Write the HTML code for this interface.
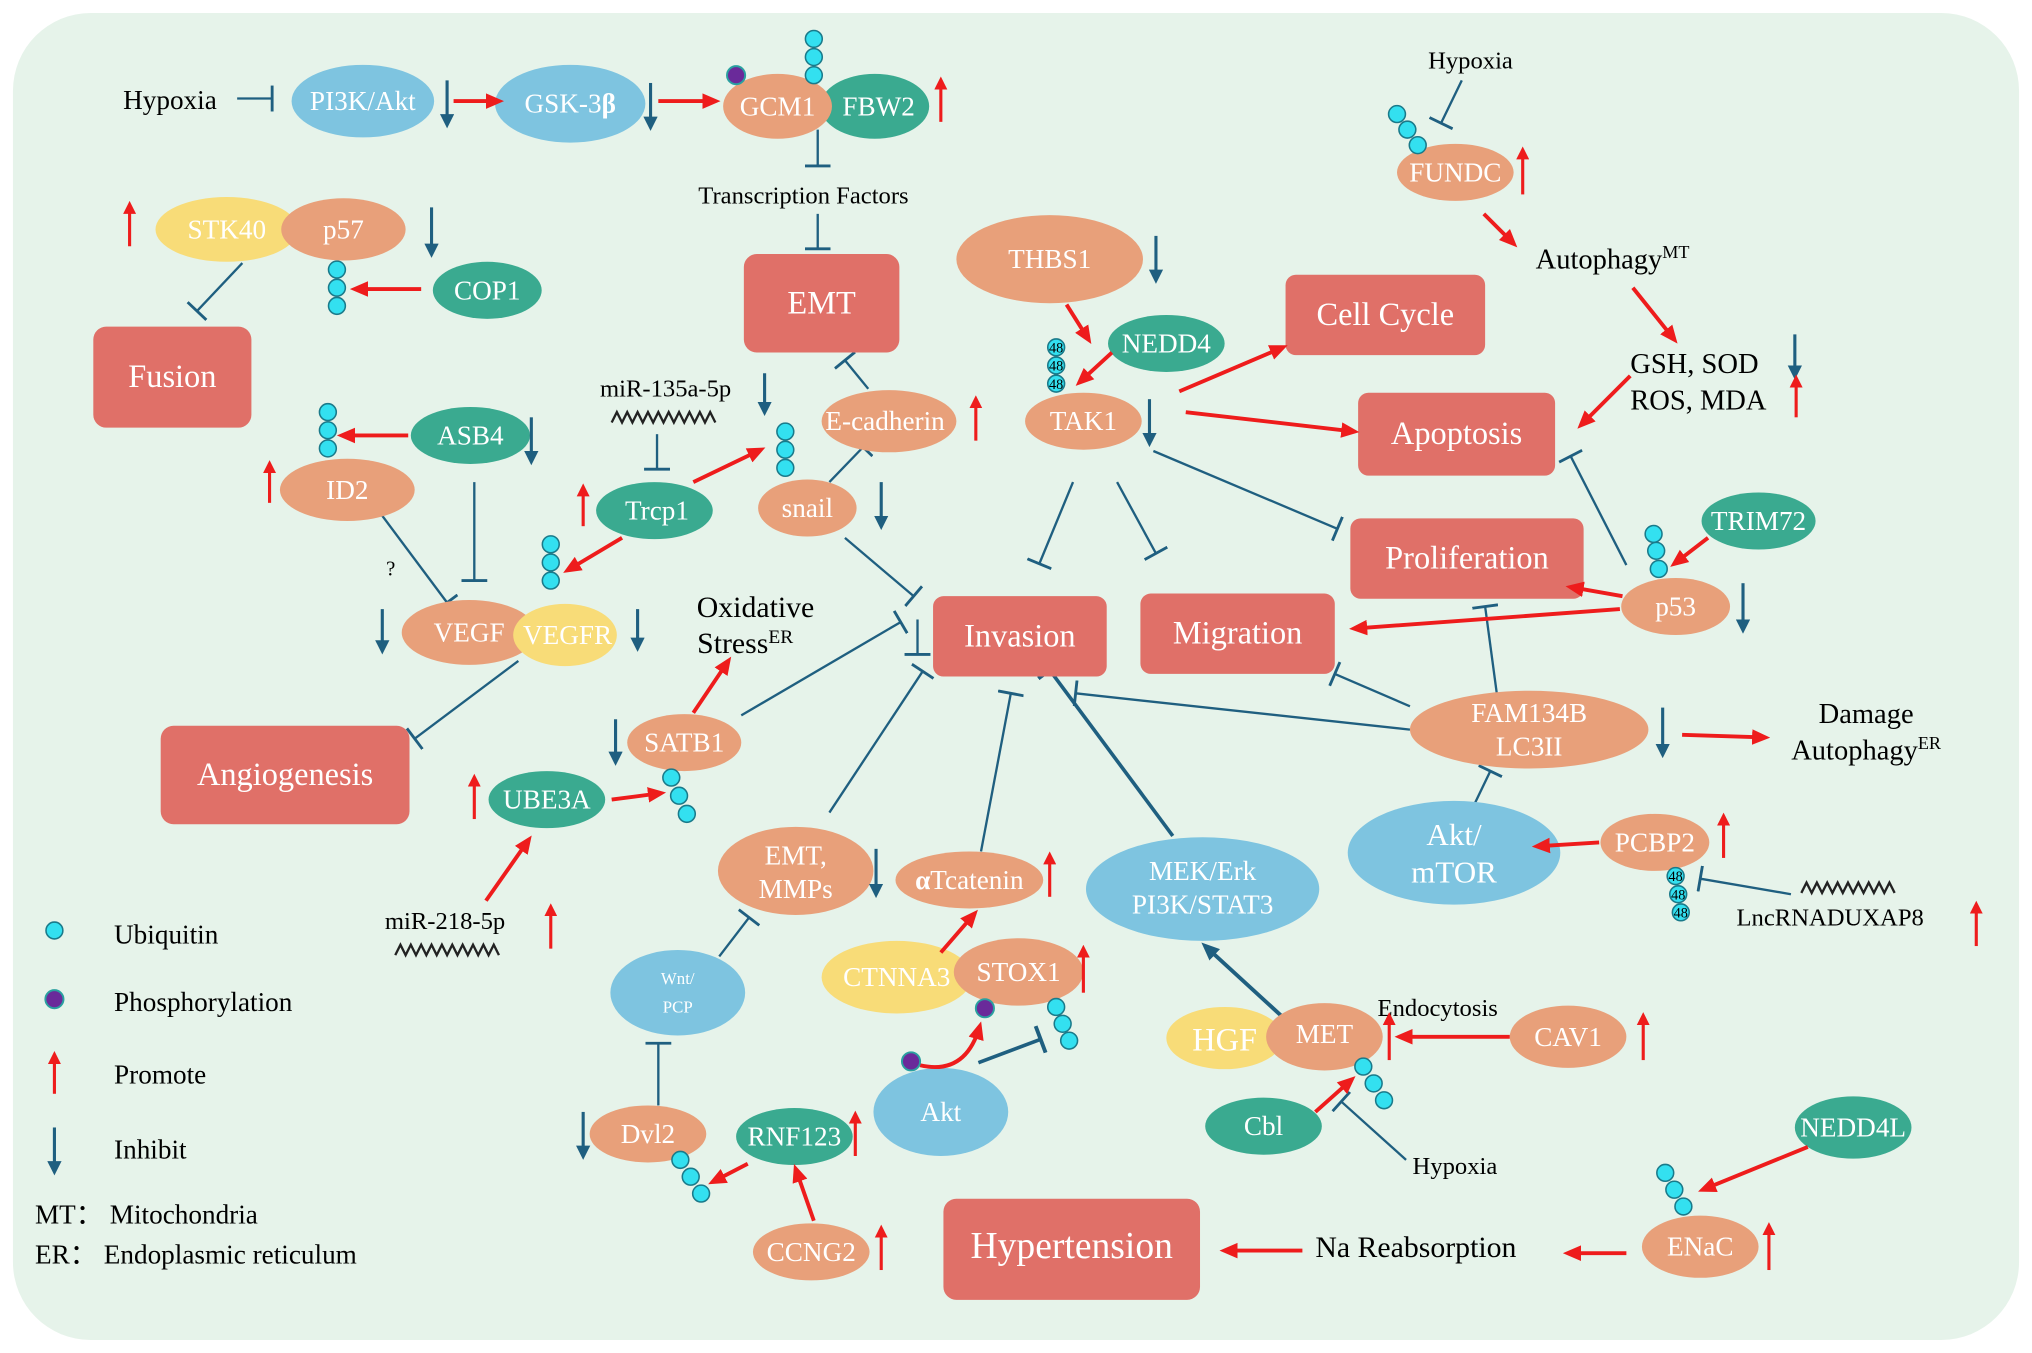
<!DOCTYPE html>
<html><head><meta charset="utf-8"><style>
html,body{margin:0;padding:0;background:#fff;}
svg{display:block;}
text{font-family:"Liberation Serif",serif;}
.w{fill:#fff;text-anchor:middle;dominant-baseline:central;font-size:21px;}
.b{fill:#fff;text-anchor:middle;dominant-baseline:central;font-size:25px;}
.k{fill:#000;font-size:21px;}
.i{stroke:#1f5f80;stroke-width:1.8;marker-end:url(#ib);}
.it{stroke:#1f5f80;stroke-width:2.8;marker-end:url(#ib2);}
.r{stroke:#ee1c1c;stroke-width:3;marker-end:url(#ar2);fill:none;}
.u{stroke:#ee1c1c;stroke-width:2.4;marker-end:url(#ar);}
.d{stroke:#1f5f80;stroke-width:2.4;marker-end:url(#ab);}
.c{fill:#33e0f0;stroke:#1a7a8a;stroke-width:1.2;}
.p{fill:#6a2a9a;stroke:#2aa0a0;stroke-width:1.5;}
.n{font-size:11px;text-anchor:middle;fill:#000;}
.wv{fill:none;stroke:#222;stroke-width:1.8;}
</style></head><body>
<svg width="2032" height="1353" viewBox="0 0 1568 1044" xmlns="http://www.w3.org/2000/svg">
<defs>
<marker id="ar" markerWidth="10" markerHeight="10" refX="7" refY="5" orient="auto" markerUnits="userSpaceOnUse" viewBox="0 0 10 10"><path d="M0,0 L10,5 L0,10 z" fill="#ee1c1c"/></marker>
<marker id="ab" markerWidth="11" markerHeight="11" refX="8" refY="5.5" orient="auto" markerUnits="userSpaceOnUse" viewBox="0 0 11 11"><path d="M0,0 L11,5.5 L0,11 z" fill="#1f5f80"/></marker>
<marker id="ar2" markerWidth="14" markerHeight="14" refX="10" refY="7" orient="auto" markerUnits="userSpaceOnUse" viewBox="0 0 14 14"><path d="M0,1 L14,7 L0,13 z" fill="#ee1c1c"/></marker>
<marker id="ab2" markerWidth="14" markerHeight="14" refX="10" refY="7" orient="auto" markerUnits="userSpaceOnUse" viewBox="0 0 14 14"><path d="M0,1 L14,7 L0,13 z" fill="#1f5f80"/></marker>
<marker id="ib" markerWidth="4" markerHeight="20" refX="2" refY="10" orient="auto" markerUnits="userSpaceOnUse" viewBox="0 0 4 20"><path d="M2,0 L2,20" stroke="#1f5f80" stroke-width="2.2"/></marker>
<marker id="ib2" markerWidth="4" markerHeight="22" refX="2" refY="11" orient="auto" markerUnits="userSpaceOnUse" viewBox="0 0 4 22"><path d="M2,0 L2,22" stroke="#1f5f80" stroke-width="3"/></marker>
</defs>
<rect x="10" y="10" width="1548" height="1024" rx="60" fill="#e6f3ea"/>
<!-- inhibitions -->
<g>
<line class="i" x1="183" y1="76" x2="210" y2="76"/>
<line class="i" x1="631" y1="100" x2="631" y2="128"/>
<line class="i" x1="631" y1="165" x2="631" y2="192"/>
<line class="i" x1="187" y1="203" x2="152" y2="240"/>
<line class="i" x1="295" y1="398" x2="345" y2="465"/>
<line class="i" x1="366" y1="372" x2="366" y2="448"/>
<line class="i" x1="507" y1="335" x2="507" y2="362"/>
<line class="i" x1="670" y1="300" x2="652" y2="278"/>
<line class="i" x1="640" y1="372" x2="666" y2="345"/>
<line class="i" x1="652" y1="415" x2="705" y2="460"/>
<line class="i" x1="400" y1="510" x2="320" y2="570"/>
<line class="i" x1="572" y1="552" x2="695" y2="480"/>
<line class="i" x1="640" y1="627" x2="712" y2="518"/>
<line class="i" x1="757" y1="657" x2="780" y2="535"/>
<line class="it" x1="905" y1="645" x2="810" y2="517"/>
<line class="i" x1="555" y1="738" x2="578" y2="708"/>
<line class="i" x1="508" y1="853" x2="508" y2="805"/>
<line class="it" x1="755" y1="820" x2="803" y2="802"/>
<line class="i" x1="1085" y1="895" x2="1035" y2="850"/>
<line class="i" x1="828" y1="372" x2="802" y2="435"/>
<line class="i" x1="862" y1="372" x2="892" y2="427"/>
<line class="i" x1="890" y1="348" x2="1032" y2="408"/>
<line class="i" x1="1128" y1="62" x2="1112" y2="95"/>
<line class="i" x1="1255" y1="436" x2="1212" y2="352"/>
<line class="i" x1="1155" y1="535" x2="1146" y2="468"/>
<line class="i" x1="1088" y1="545" x2="1030" y2="520"/>
<line class="i" x1="1088" y1="563" x2="830" y2="535"/>
<line class="i" x1="1138" y1="620" x2="1150" y2="595"/>
<line class="i" x1="1382" y1="690" x2="1312" y2="678"/>
<line class="i" x1="708" y1="478" x2="708" y2="505"/>
<line x1="990" y1="785" x2="930" y2="730" stroke="#1f5f80" stroke-width="3" marker-end="url(#ab2)"/>
</g>
<!-- boxes -->
<g fill="#e07068">
<rect x="574" y="196" width="120" height="76" rx="10"/>
<rect x="72" y="252" width="122" height="78" rx="10"/>
<rect x="124" y="560" width="192" height="76" rx="10"/>
<rect x="720" y="460" width="134" height="62" rx="8"/>
<rect x="880" y="458" width="150" height="62" rx="8"/>
<rect x="992" y="212" width="154" height="62" rx="8"/>
<rect x="1048" y="303" width="152" height="64" rx="8"/>
<rect x="1042" y="400" width="180" height="62" rx="8"/>
<rect x="728" y="925" width="198" height="78" rx="10"/>
</g>
<!-- ellipses -->
<g>
<ellipse cx="280" cy="78" rx="55" ry="28" fill="#7ec4e0"/>
<ellipse cx="440" cy="80" rx="58" ry="30" fill="#7ec4e0"/>
<ellipse cx="675" cy="82" rx="42" ry="25" fill="#3aaa90"/>
<ellipse cx="600" cy="82" rx="42" ry="25" fill="#e8a07a"/>
<ellipse cx="175" cy="177" rx="55" ry="25" fill="#f8dc78"/>
<ellipse cx="265" cy="177" rx="48" ry="24" fill="#e8a07a"/>
<ellipse cx="376" cy="224" rx="42" ry="22" fill="#3aaa90"/>
<ellipse cx="363" cy="336" rx="46" ry="22" fill="#3aaa90"/>
<ellipse cx="268" cy="378" rx="52" ry="24" fill="#e8a07a"/>
<ellipse cx="505" cy="394" rx="45" ry="22" fill="#3aaa90"/>
<ellipse cx="623" cy="392" rx="38" ry="22" fill="#e8a07a"/>
<ellipse cx="686" cy="325" rx="52" ry="24" fill="#e8a07a"/>
<ellipse cx="362" cy="488" rx="52" ry="25" fill="#e8a07a"/>
<ellipse cx="436" cy="490" rx="40" ry="24" fill="#f8dc78"/>
<ellipse cx="528" cy="573" rx="44" ry="22" fill="#e8a07a"/>
<ellipse cx="422" cy="617" rx="45" ry="22" fill="#3aaa90"/>
<ellipse cx="614" cy="672" rx="60" ry="34" fill="#e8a07a"/>
<ellipse cx="748" cy="679" rx="57" ry="22" fill="#e8a07a"/>
<ellipse cx="928" cy="686" rx="90" ry="40" fill="#7ec4e0"/>
<ellipse cx="523" cy="766" rx="52" ry="33" fill="#7ec4e0"/>
<ellipse cx="692" cy="754" rx="58" ry="28" fill="#f8dc78"/>
<ellipse cx="786" cy="750" rx="50" ry="26" fill="#e8a07a"/>
<ellipse cx="726" cy="858" rx="52" ry="34" fill="#7ec4e0"/>
<ellipse cx="500" cy="875" rx="45" ry="22" fill="#e8a07a"/>
<ellipse cx="613" cy="877" rx="45" ry="22" fill="#3aaa90"/>
<ellipse cx="626" cy="966" rx="45" ry="22" fill="#e8a07a"/>
<ellipse cx="945" cy="801" rx="45" ry="24" fill="#f8dc78"/>
<ellipse cx="1022" cy="800" rx="45" ry="26" fill="#e8a07a"/>
<ellipse cx="1210" cy="800" rx="45" ry="24" fill="#e8a07a"/>
<ellipse cx="975" cy="869" rx="45" ry="22" fill="#3aaa90"/>
<ellipse cx="1312" cy="962" rx="45" ry="24" fill="#e8a07a"/>
<ellipse cx="1430" cy="870" rx="45" ry="24" fill="#3aaa90"/>
<ellipse cx="810" cy="200" rx="72" ry="34" fill="#e8a07a"/>
<ellipse cx="900" cy="265" rx="45" ry="22" fill="#3aaa90"/>
<ellipse cx="836" cy="325" rx="45" ry="22" fill="#e8a07a"/>
<ellipse cx="1123" cy="133" rx="45" ry="22" fill="#e8a07a"/>
<ellipse cx="1357" cy="402" rx="44" ry="22" fill="#3aaa90"/>
<ellipse cx="1293" cy="468" rx="42" ry="22" fill="#e8a07a"/>
<ellipse cx="1180" cy="563" rx="92" ry="30" fill="#e8a07a"/>
<ellipse cx="1122" cy="658" rx="82" ry="40" fill="#7ec4e0"/>
<ellipse cx="1277" cy="650" rx="42" ry="22" fill="#e8a07a"/>
</g>
<!-- red arrows -->
<g>
<line class="r" x1="350" y1="78" x2="385" y2="78"/>
<line class="r" x1="508" y1="78" x2="552" y2="78"/>
<line class="r" x1="325" y1="223" x2="274" y2="223"/>
<line class="r" x1="315" y1="336" x2="264" y2="336"/>
<line class="r" x1="535" y1="372" x2="587" y2="347"/>
<line class="r" x1="480" y1="415" x2="438" y2="440"/>
<line class="r" x1="535" y1="550" x2="562" y2="510"/>
<line class="r" x1="472" y1="617" x2="510" y2="612"/>
<line class="r" x1="375" y1="695" x2="408" y2="648"/>
<line class="r" x1="726" y1="735" x2="752" y2="705"/>
<line class="r" x1="577" y1="898" x2="550" y2="912"/>
<line class="r" x1="628" y1="942" x2="614" y2="902"/>
<line class="r" x1="1165" y1="800" x2="1080" y2="800"/>
<line class="r" x1="1015" y1="858" x2="1043" y2="833"/>
<line class="r" x1="1005" y1="965" x2="945" y2="965"/>
<line class="r" x1="1255" y1="967" x2="1210" y2="967"/>
<line class="r" x1="1395" y1="885" x2="1314" y2="918"/>
<line class="r" x1="823" y1="235" x2="840" y2="262"/>
<line class="r" x1="858" y1="272" x2="833" y2="295"/>
<line class="r" x1="910" y1="302" x2="990" y2="268"/>
<line class="r" x1="915" y1="318" x2="1045" y2="333"/>
<line class="r" x1="1145" y1="165" x2="1168" y2="188"/>
<line class="r" x1="1260" y1="222" x2="1292" y2="262"/>
<line class="r" x1="1258" y1="290" x2="1220" y2="328"/>
<line class="r" x1="1318" y1="415" x2="1292" y2="435"/>
<line class="r" x1="1252" y1="460" x2="1212" y2="453"/>
<line class="r" x1="1250" y1="470" x2="1045" y2="485"/>
<line class="r" x1="1298" y1="567" x2="1362" y2="569"/>
<line class="r" x1="1234" y1="650" x2="1186" y2="653"/>
<path class="r" d="M710,822 Q745,830 756,792"/>
</g>
<text class="b" x="634" y="234">EMT</text>
<text class="b" x="133" y="291">Fusion</text>
<text class="b" x="220" y="598">Angiogenesis</text>
<text class="b" x="787" y="491">Invasion</text>
<text class="b" x="955" y="489">Migration</text>
<text class="b" x="1069" y="243">Cell Cycle</text>
<text class="b" x="1124" y="335">Apoptosis</text>
<text class="b" x="1132" y="431">Proliferation</text>
<text class="b" x="827" y="962" style="font-size:29px">Hypertension</text>
<text class="w" x="280" y="78">PI3K/Akt</text>
<text class="w" x="440" y="80">GSK-3<tspan font-weight="bold">β</tspan></text>
<text class="w" x="600" y="82">GCM1</text>
<text class="w" x="678" y="82">FBW2</text>
<text class="w" x="175" y="177">STK40</text>
<text class="w" x="265" y="177">p57</text>
<text class="w" x="376" y="224">COP1</text>
<text class="w" x="363" y="336">ASB4</text>
<text class="w" x="268" y="378">ID2</text>
<text class="w" x="507" y="394">Trcp1</text>
<text class="w" x="623" y="392">snail</text>
<text class="w" x="683" y="325">E-cadherin</text>
<text class="w" x="362" y="488">VEGF</text>
<text class="w" x="438" y="490">VEGFR</text>
<text class="w" x="528" y="573">SATB1</text>
<text class="w" x="422" y="617">UBE3A</text>
<text class="w" x="614" y="660">EMT,</text>
<text class="w" x="614" y="686">MMPs</text>
<text class="w" x="748" y="679"><tspan font-weight="bold">α</tspan>Tcatenin</text>
<text class="w" x="928" y="672">MEK/Erk</text>
<text class="w" x="928" y="698">PI3K/STAT3</text>
<text class="w" x="523" y="755" style="font-size:13px">Wnt/</text>
<text class="w" x="523" y="777" style="font-size:13px">PCP</text>
<text class="w" x="692" y="754">CTNNA3</text>
<text class="w" x="786" y="750">STOX1</text>
<text class="w" x="726" y="858">Akt</text>
<text class="w" x="500" y="875">Dvl2</text>
<text class="w" x="613" y="877">RNF123</text>
<text class="w" x="626" y="966">CCNG2</text>
<text class="w" x="945" y="803" style="font-size:25px">HGF</text>
<text class="w" x="1022" y="798">MET</text>
<text class="w" x="1210" y="800">CAV1</text>
<text class="w" x="975" y="869">Cbl</text>
<text class="w" x="1312" y="962">ENaC</text>
<text class="w" x="1430" y="870">NEDD4L</text>
<text class="w" x="810" y="200">THBS1</text>
<text class="w" x="900" y="265">NEDD4</text>
<text class="w" x="836" y="325">TAK1</text>
<text class="w" x="1123" y="133">FUNDC</text>
<text class="w" x="1357" y="402">TRIM72</text>
<text class="w" x="1293" y="468">p53</text>
<text class="w" x="1180" y="550">FAM134B</text>
<text class="w" x="1180" y="576">LC3II</text>
<text class="w" x="1122" y="644" style="font-size:24px">Akt/</text>
<text class="w" x="1122" y="673" style="font-size:24px">mTOR</text>
<text class="w" x="1277" y="650">PCBP2</text>
<!-- black labels -->
<text class="k" x="95" y="84">Hypoxia</text>
<text class="k" x="620" y="157" text-anchor="middle" style="font-size:19px">Transcription Factors</text>
<text class="k" x="463" y="306" style="font-size:19px">miR-135a-5p</text>
<text class="k" x="298" y="444" style="font-size:16px">?</text>
<text class="k" x="583" y="476" text-anchor="middle" style="font-size:23px">Oxidative</text>
<text class="k" x="575" y="504" text-anchor="middle" style="font-size:23px">Stress<tspan style="font-size:15px" dy="-8">ER</tspan></text>
<text class="k" x="297" y="717" style="font-size:19px">miR-218-5p</text>
<text class="k" x="1063" y="784" style="font-size:19px">Endocytosis</text>
<text class="k" x="1090" y="906" style="font-size:19px">Hypoxia</text>
<text class="k" x="1015" y="970" style="font-size:23px">Na Reabsorption</text>
<text class="k" x="1102" y="53" style="font-size:19px">Hypoxia</text>
<text class="k" x="1185" y="207" style="font-size:22px">Autophagy<tspan style="font-size:14px" dy="-8">MT</tspan></text>
<text class="k" x="1258" y="288" style="font-size:22px">GSH, SOD</text>
<text class="k" x="1258" y="316" style="font-size:22px">ROS, MDA</text>
<text class="k" x="1440" y="558" text-anchor="middle" style="font-size:22px">Damage</text>
<text class="k" x="1440" y="586" text-anchor="middle" style="font-size:22px">Autophagy<tspan style="font-size:14px" dy="-8">ER</tspan></text>
<text class="k" x="1340" y="714" style="font-size:19px">LncRNADUXAP8</text>
<text class="k" x="88" y="728">Ubiquitin</text>
<text class="k" x="88" y="780">Phosphorylation</text>
<text class="k" x="88" y="836">Promote</text>
<text class="k" x="88" y="894">Inhibit</text>
<text class="k" x="27" y="944">MT：  Mitochondria</text>
<text class="k" x="27" y="975">ER：  Endoplasmic reticulum</text>
<!-- up/down -->
<g>
<line class="d" x1="345" y1="62" x2="345" y2="96"/>
<line class="d" x1="502" y1="64" x2="502" y2="98"/>
<line class="u" x1="726" y1="94" x2="726" y2="62"/>
<line class="u" x1="100" y1="190" x2="100" y2="158"/>
<line class="d" x1="333" y1="160" x2="333" y2="196"/>
<line class="d" x1="410" y1="322" x2="410" y2="356"/>
<line class="u" x1="208" y1="388" x2="208" y2="358"/>
<line class="d" x1="590" y1="288" x2="590" y2="318"/>
<line class="u" x1="450" y1="406" x2="450" y2="376"/>
<line class="d" x1="680" y1="372" x2="680" y2="406"/>
<line class="u" x1="753" y1="340" x2="753" y2="308"/>
<line class="d" x1="295" y1="470" x2="295" y2="502"/>
<line class="d" x1="492" y1="470" x2="492" y2="500"/>
<line class="d" x1="475" y1="555" x2="475" y2="588"/>
<line class="u" x1="366" y1="632" x2="366" y2="600"/>
<line class="u" x1="425" y1="732" x2="425" y2="700"/>
<line class="d" x1="676" y1="655" x2="676" y2="690"/>
<line class="u" x1="810" y1="692" x2="810" y2="660"/>
<line class="u" x1="836" y1="766" x2="836" y2="732"/>
<line class="d" x1="450" y1="858" x2="450" y2="892"/>
<line class="u" x1="660" y1="892" x2="660" y2="860"/>
<line class="u" x1="680" y1="980" x2="680" y2="948"/>
<line class="u" x1="1072" y1="818" x2="1072" y2="784"/>
<line class="u" x1="1268" y1="818" x2="1268" y2="784"/>
<line class="u" x1="1365" y1="980" x2="1365" y2="946"/>
<line class="d" x1="892" y1="182" x2="892" y2="216"/>
<line class="d" x1="887" y1="308" x2="887" y2="342"/>
<line class="u" x1="1175" y1="150" x2="1175" y2="116"/>
<line class="d" x1="1385" y1="258" x2="1385" y2="290"/>
<line class="u" x1="1386" y1="322" x2="1386" y2="292"/>
<line class="d" x1="1345" y1="450" x2="1345" y2="486"/>
<line class="d" x1="1283" y1="546" x2="1283" y2="582"/>
<line class="u" x1="1330" y1="662" x2="1330" y2="630"/>
<line class="u" x1="1525" y1="730" x2="1525" y2="698"/>
<line class="u" x1="42" y1="844" x2="42" y2="814"/>
<line class="d" x1="42" y1="870" x2="42" y2="904"/>
</g>
<!-- ubiquitin / phospho -->
<g>
<circle class="c" cx="42" cy="718" r="6.5"/>
<circle class="p" cx="42" cy="771" r="7"/>
<circle class="c" cx="628" cy="30" r="6.5"/><circle class="c" cx="628" cy="44" r="6.5"/><circle class="c" cx="628" cy="58" r="6.5"/>
<circle class="p" cx="568" cy="58" r="7"/>
<circle class="c" cx="260" cy="208" r="6.5"/><circle class="c" cx="260" cy="222" r="6.5"/><circle class="c" cx="260" cy="236" r="6.5"/>
<circle class="c" cx="253" cy="318" r="6.5"/><circle class="c" cx="253" cy="332" r="6.5"/><circle class="c" cx="253" cy="346" r="6.5"/>
<circle class="c" cx="606" cy="333" r="6.5"/><circle class="c" cx="606" cy="347" r="6.5"/><circle class="c" cx="606" cy="361" r="6.5"/>
<circle class="c" cx="425" cy="420" r="6.5"/><circle class="c" cx="425" cy="434" r="6.5"/><circle class="c" cx="425" cy="448" r="6.5"/>
<circle class="c" cx="518" cy="600" r="6.5"/><circle class="c" cx="524" cy="614" r="6.5"/><circle class="c" cx="530" cy="628" r="6.5"/>
<circle class="p" cx="760" cy="778" r="7"/>
<circle class="c" cx="815" cy="777" r="6.5"/><circle class="c" cx="820" cy="790" r="6.5"/><circle class="c" cx="825" cy="803" r="6.5"/>
<circle class="p" cx="703" cy="819" r="7"/>
<circle class="c" cx="525" cy="895" r="6.5"/><circle class="c" cx="533" cy="908" r="6.5"/><circle class="c" cx="541" cy="921" r="6.5"/>
<circle class="c" cx="1052" cy="823" r="6.5"/><circle class="c" cx="1060" cy="836" r="6.5"/><circle class="c" cx="1068" cy="849" r="6.5"/>
<circle class="c" cx="1285" cy="905" r="6.5"/><circle class="c" cx="1292" cy="918" r="6.5"/><circle class="c" cx="1299" cy="931" r="6.5"/>
<circle class="c" cx="1078" cy="88" r="6.5"/><circle class="c" cx="1086" cy="100" r="6.5"/><circle class="c" cx="1094" cy="112" r="6.5"/>
<circle class="c" cx="1276" cy="412" r="6.5"/><circle class="c" cx="1278" cy="425" r="6.5"/><circle class="c" cx="1280" cy="439" r="6.5"/>
<circle class="c" cx="815" cy="268" r="6.5"/><circle class="c" cx="815" cy="282" r="6.5"/><circle class="c" cx="815" cy="296" r="6.5"/>
<text class="n" x="815" y="272">48</text><text class="n" x="815" y="286">48</text><text class="n" x="815" y="300">48</text>
<circle class="c" cx="1293" cy="676" r="6.5"/><circle class="c" cx="1295" cy="690" r="6.5"/><circle class="c" cx="1297" cy="704" r="6.5"/>
<text class="n" x="1293" y="680">48</text><text class="n" x="1295" y="694">48</text><text class="n" x="1297" y="708">48</text>
</g>
<!-- waves -->
<path class="wv" d="M472,326 l4,-8 l4,8 l4,-8 l4,8 l4,-8 l4,8 l4,-8 l4,8 l4,-8 l4,8 l4,-8 l4,8 l4,-8 l4,8 l4,-8 l4,8 l4,-8 l4,8 l4,-8 l4,8"/>
<path class="wv" d="M305,737 l4,-8 l4,8 l4,-8 l4,8 l4,-8 l4,8 l4,-8 l4,8 l4,-8 l4,8 l4,-8 l4,8 l4,-8 l4,8 l4,-8 l4,8 l4,-8 l4,8 l4,-8 l4,8"/>
<path class="wv" d="M1390,689 l4,-8 l4,8 l4,-8 l4,8 l4,-8 l4,8 l4,-8 l4,8 l4,-8 l4,8 l4,-8 l4,8 l4,-8 l4,8 l4,-8 l4,8 l4,-8 l4,8"/>
</svg>
</body></html>
